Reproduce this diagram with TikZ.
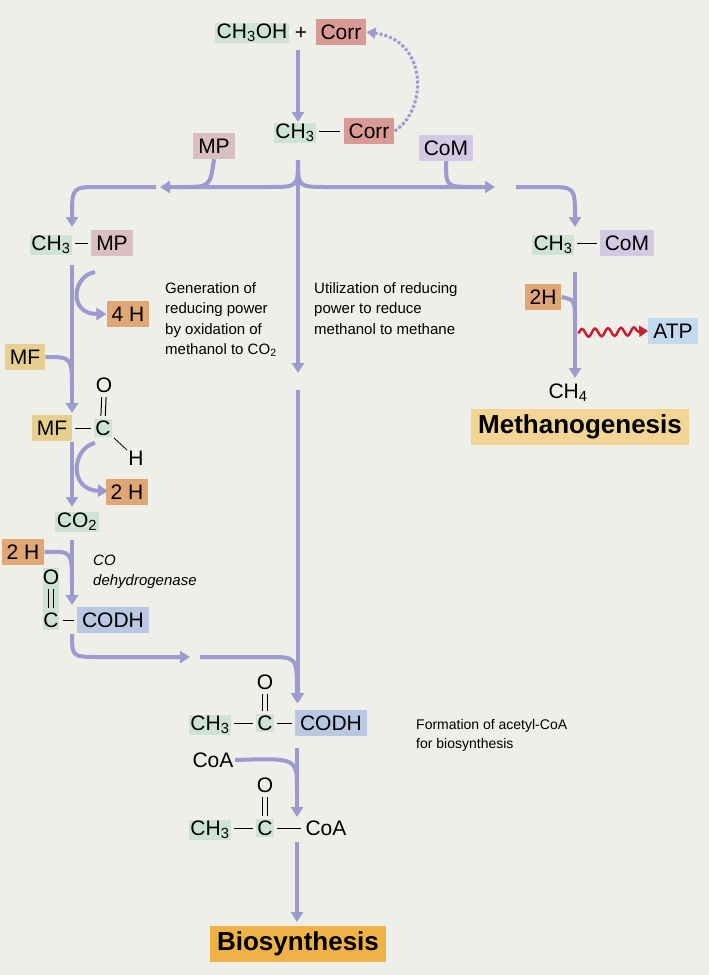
\documentclass[tikz,border=0pt]{standalone}
\usepackage{fontspec}
\setmainfont{Liberation Sans}
\usetikzlibrary{arrows.meta,decorations.pathmorphing}
\definecolor{paper}{HTML}{EDEFE8}
\definecolor{flow}{HTML}{9C9ACF}
\definecolor{corrc}{HTML}{D99A95}
\definecolor{mpc}{HTML}{D9BFC2}
\definecolor{comc}{HTML}{D3C9E2}
\definecolor{hc}{HTML}{DFA676}
\definecolor{mfc}{HTML}{E7D08F}
\definecolor{codhc}{HTML}{B9C7E2}
\definecolor{atpc}{HTML}{C3DAEE}
\definecolor{ch3c}{HTML}{CFE2D6}
\definecolor{methc}{HTML}{F2D494}
\definecolor{bioc}{HTML}{EEB247}
\newcommand{\dblbond}[2]{%
	\draw[bond] ([xshift=-2.2pt]#1.south) -- ([xshift=-2.2pt]#2.north);
	\draw[bond] ([xshift=2.2pt]#1.south) -- ([xshift=2.2pt]#2.north);}
\begin{document}
\begin{tikzpicture}[x=1pt,y=-1pt]
	\tikzset{chem/.style={inner sep=1.5pt, font=\fontsize{21}{24}\selectfont},
		bx/.style={chem, inner xsep=5pt, minimum height=26pt},
		bond/.style={line width=1pt, shorten <=3pt, shorten >=3pt},
		note/.style={align=left, anchor=north west, inner sep=0pt, font=\fontsize{15}{20.5}\selectfont},
		flw/.style={draw=flow, line width=4pt},
		arr/.style={flw, -{Triangle[length=10pt,width=12pt]}},
		big/.style={font=\fontsize{26}{30}\selectfont\bfseries, inner xsep=7pt, inner ysep=6pt}}

	\fill[paper] (0,0) rectangle (709,975);

	% top
	\node[chem, fill=ch3c] (ch3oh) at (252,33) {CH\textsubscript{3}OH};
	\node[chem] (plus) at (301,33) {+};
	\node[bx, fill=corrc] (corr1) at (341,32) {Corr};
	\node[chem, fill=ch3c] (ch3a) at (295,133) {CH\textsubscript{3}};
	\node[bx, fill=corrc] (corr2) at (369,131) {Corr};
	\draw[bond] (ch3a.east |- corr2) -- (corr2.west);
	\node[bx, fill=mpc] (mp1) at (214,146) {MP};
	\node[bx, fill=comc] (com1) at (446,148) {CoM};

	\draw[arr] (298,50) -- (298,122);
	\draw[draw=flow, line width=3pt, dash pattern=on 3pt off 2pt, -{Triangle[length=9pt,width=11pt]}]
		(corr2.east) .. controls (428,110) and (428,40) .. (corr1.east);

	% split
	\coordinate (sp) at (298,160);
	\draw[arr] (sp) .. controls (298,187) .. (268,187) -- (160,187);
	\draw[arr] (sp) .. controls (298,187) .. (328,187) -- (495,187);
	\draw[arr] (sp) -- (298,373);
	\draw[flw] (mp1.south) .. controls (210,187) .. (182,187);
	\draw[flw] (com1.south) .. controls (446,187) .. (474,187);
	\draw[arr] (156,187) -- (100,187) .. controls (72,187) .. (72,227);
	\draw[arr] (516,187) -- (547,187) .. controls (575,187) .. (575,227);

	% left column
	\node[chem, fill=ch3c] (ch3b) at (51,245) {CH\textsubscript{3}};
	\node[bx, fill=mpc] (mp2) at (112,243) {MP};
	\draw[bond] (ch3b.east |- mp2) -- (mp2.west);
	\node[bx, fill=hc] (h4) at (128,314) {4 H};
	\node[bx, fill=mfc] (mf1) at (25,357) {MF};
	\draw[flw] (72,265) -- (72,300);
	\draw[arr] (72,300) -- (72,413);
	\draw[arr] (95,272) .. controls (72,276) and (68,314) .. (h4.west);
	\draw[flw] (mf1.east) .. controls (72,357) .. (72,390);

	\node[bx, fill=mfc] (mf2) at (52,428) {MF};
	\node[chem, fill=ch3c] (c1) at (103,428) {C};
	\draw[bond] (mf2.east) -- (c1.west);
	\node[chem] (o1) at (104,385) {O};
	\node[chem] (h1) at (136,458) {H};
	\dblbond{o1}{c1}
	\draw[line width=0.8pt] (114,438) -- (127,450);
	\draw[flw] (72,442) -- (72,480);
	\draw[arr] (72,480) -- (72,507);
	\draw[arr] (95,443) .. controls (72,448) and (68,490) .. (108,491);
	\node[bx, fill=hc] (h2a) at (127,492) {2 H};
	\node[chem, fill=ch3c] (co2) at (77,522) {CO\textsubscript{2}};

	\node[bx, fill=hc] (h2b) at (23,552) {2 H};
	\draw[arr] (72,540) -- (72,605);
	\draw[flw] (h2b.east) .. controls (72,551) .. (72,585);
	\node[note, font=\fontsize{15}{20}\selectfont\itshape] (codh) at (93,555) {CO\\dehydrogenase};
	\node[fill=ch3c, minimum width=16pt, minimum height=62pt, inner sep=0pt] (cbox) at (51,599) {};
	\node[chem] (o2) at (51,577) {O};
	\node[chem] (c2) at (51,620) {C};
	\dblbond{o2}{c2}
	\node[bx, fill=codhc] (codh1) at (113,620) {CODH};
	\draw[bond] (c2.east) -- (codh1.west);
	\draw[arr] (72,634) .. controls (72,657) .. (100,657) -- (190,657);
	\draw[arr] (200,657) -- (268,657) .. controls (297,657) .. (297,703);
	\draw[arr] (298,390) -- (298,703);

	% notes
	\node[note] (gen) at (165,282) {Generation of\\reducing power\\by oxidation of\\methanol to CO\textsubscript{2}};
	\node[note] (utl) at (314,282) {Utilization of reducing\\power to reduce\\methanol to methane};

	% right column
	\node[chem, fill=ch3c] (ch3c1) at (553,245) {CH\textsubscript{3}};
	\node[bx, fill=comc] (com2) at (627,243) {CoM};
	\draw[bond] (ch3c1.east |- com2) -- (com2.west);
	\node[bx, fill=hc] (h2c) at (543,297) {2H};
	\draw[arr] (575,272) -- (575,378);
	\draw[flw] (h2c.east) .. controls (575,300) .. (575,322);
	\node[bx, fill=atpc] (atp) at (673,331) {ATP};
	\draw[draw={rgb,255:red,200;green,30;blue,50}, line width=2.5pt,
		decorate, decoration={snake, amplitude=4pt, segment length=13pt, post length=8pt},
		-{Triangle[length=9pt,width=11pt]}] (578,333) -- (atp.west);
	\node[chem] (ch4) at (568,393) {CH\textsubscript{4}};
	\node[big, fill=methc] (meth) at (580,427) {Methanogenesis};

	% acetyl-CoA
	\node[chem, fill=ch3c] (ch3d) at (210,725) {CH\textsubscript{3}};
	\node[chem, fill=ch3c] (c3) at (265,723) {C};
	\node[chem] (o3) at (265,682) {O};
	\dblbond{o3}{c3}
	\node[bx, fill=codhc] (codh2) at (331,723) {CODH};
	\draw[bond] (ch3d.east |- c3) -- (c3.west);
	\draw[bond] (c3.east) -- (codh2.west);
	\node[note, font=\fontsize{14}{19}\selectfont] (form) at (416,719) {Formation of acetyl-CoA\\for biosynthesis};
	\node[chem] (coa1) at (213,760) {CoA};
	\draw[arr] (297,748) -- (297,817);
	\draw[flw] (coa1.east) .. controls (297,758) .. (297,790);

	\node[chem, fill=ch3c] (ch3e) at (210,830) {CH\textsubscript{3}};
	\node[chem, fill=ch3c] (c4) at (265,828) {C};
	\node[chem] (o4) at (265,785) {O};
	\dblbond{o4}{c4}
	\node[chem] (coa2) at (326,828) {CoA};
	\draw[bond] (ch3e.east |- c4) -- (c4.west);
	\draw[bond] (c4.east) -- (coa2.west);
	\draw[arr] (297,842) -- (297,922);
	\node[big, fill=bioc] (bio) at (298,944) {Biosynthesis};
\end{tikzpicture}
\end{document}
